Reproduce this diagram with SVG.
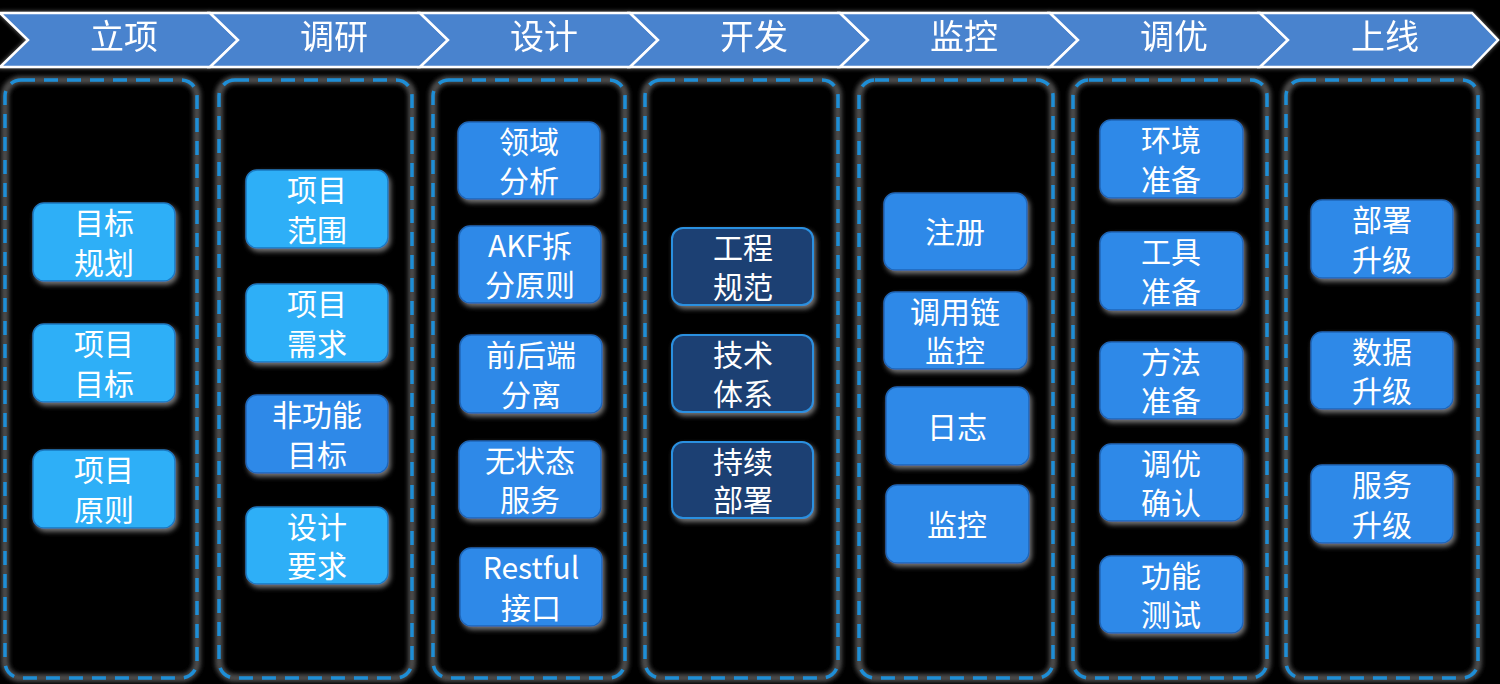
<svg xmlns="http://www.w3.org/2000/svg" width="1500" height="684" viewBox="0 0 1500 684">
<defs>
<filter id="glow" x="-20%" y="-20%" width="140%" height="140%">
<feGaussianBlur in="SourceAlpha" stdDeviation="2.5" result="b"/>
<feOffset in="b" dx="2" dy="3" result="o"/>
<feFlood flood-color="#8a8a8a" flood-opacity="0.85"/>
<feComposite in2="o" operator="in" result="s"/>
<feMerge><feMergeNode in="s"/><feMergeNode in="SourceGraphic"/></feMerge>
</filter>
<filter id="soft" x="-5%" y="-5%" width="110%" height="110%">
<feGaussianBlur stdDeviation="2"/>
</filter>
<filter id="hglow" x="-2%" y="-20%" width="104%" height="140%">
<feGaussianBlur in="SourceAlpha" stdDeviation="2" result="b"/>
<feFlood flood-color="#9a9a9a" flood-opacity="0.8"/>
<feComposite in2="b" operator="in" result="s"/>
<feMerge><feMergeNode in="s"/><feMergeNode in="SourceGraphic"/></feMerge>
</filter>
<style>
.chev{fill:#4a83ce;stroke:#ffffff;stroke-width:2.5;stroke-linejoin:miter}
.title{font-family:"Noto Sans CJK SC","Microsoft YaHei",sans-serif;font-size:34px;fill:#ffffff;text-anchor:middle}
.colhalo{fill:none;stroke:#4c4c4c;stroke-width:8;filter:url(#soft)}
.col{fill:none;stroke:#1e8ed6;stroke-width:3.5;stroke-dasharray:14 9}
.n{stroke-width:1.5;filter:url(#glow)}
.lt{fill:#2eaff7;stroke:#1a78c0}
.md{fill:#2f89e8;stroke:#1d66b8}
.dk{fill:#1e4173;stroke:#2a90e0;stroke-width:2}
.t{font-family:"Noto Sans CJK SC","Microsoft YaHei",sans-serif;font-size:30px;fill:#ffffff;text-anchor:middle}
</style>
</defs>
<rect x="0" y="0" width="1500" height="684" fill="#000000"/>

<g id="header" filter="url(#hglow)">
<polygon class="chev" points="0,13 210,13 238,40 210,67 0,67 28,40"/>
<polygon class="chev" points="210,13 420,13 448,40 420,67 210,67 238,40"/>
<polygon class="chev" points="420,13 630,13 658,40 630,67 420,67 448,40"/>
<polygon class="chev" points="630,13 840,13 868,40 840,67 630,67 658,40"/>
<polygon class="chev" points="840,13 1050,13 1078,40 1050,67 840,67 868,40"/>
<polygon class="chev" points="1050,13 1260,13 1288,40 1260,67 1050,67 1078,40"/>
<polygon class="chev" points="1260,13 1472,13 1498,40 1472,67 1260,67 1288,40"/>
<text class="title" x="124" y="49">立项</text>
<text class="title" x="334" y="49">调研</text>
<text class="title" x="544" y="49">设计</text>
<text class="title" x="754" y="49">开发</text>
<text class="title" x="964" y="49">监控</text>
<text class="title" x="1174" y="49">调优</text>
<text class="title" x="1385" y="49">上线</text>
</g>

<g id="columns">
<g id="col-lixiang"><rect class="colhalo" x="5" y="80" width="192" height="598" rx="16"/><rect class="col" x="5" y="80" width="192" height="598" rx="16"/></g>
<g id="col-diaoyan"><rect class="colhalo" x="219" y="80" width="193" height="598" rx="16"/><rect class="col" x="219" y="80" width="193" height="598" rx="16"/></g>
<g id="col-sheji"><rect class="colhalo" x="433" y="80" width="192" height="598" rx="16"/><rect class="col" x="433" y="80" width="192" height="598" rx="16"/></g>
<g id="col-kaifa"><rect class="colhalo" x="645" y="80" width="193" height="598" rx="16"/><rect class="col" x="645" y="80" width="193" height="598" rx="16"/></g>
<g id="col-jiankong"><rect class="colhalo" x="859" y="80" width="194" height="598" rx="16"/><rect class="col" x="859" y="80" width="194" height="598" rx="16"/></g>
<g id="col-diaoyou"><rect class="colhalo" x="1073" y="80" width="194" height="598" rx="16"/><rect class="col" x="1073" y="80" width="194" height="598" rx="16"/></g>
<g id="col-shangxian"><rect class="colhalo" x="1286" y="80" width="192" height="598" rx="16"/><rect class="col" x="1286" y="80" width="192" height="598" rx="16"/></g>
</g>

<g id="connectors"></g>

<!-- 立项 -->
<g id="n-mubiaoguihua"><rect class="n lt" x="33" y="203" width="142" height="78" rx="11"/><text class="t" x="104" y="234">目标</text><text class="t" x="104" y="274">规划</text></g>
<g id="n-xiangmumubiao"><rect class="n lt" x="33" y="324" width="142" height="78" rx="11"/><text class="t" x="104" y="355">项目</text><text class="t" x="104" y="395">目标</text></g>
<g id="n-xiangmuyuanze"><rect class="n lt" x="33" y="450" width="142" height="78" rx="11"/><text class="t" x="104" y="481">项目</text><text class="t" x="104" y="521">原则</text></g>

<!-- 调研 -->
<g id="n-xiangmufanwei"><rect class="n lt" x="246" y="170" width="142" height="78" rx="11"/><text class="t" x="317" y="201">项目</text><text class="t" x="317" y="241">范围</text></g>
<g id="n-xiangmuxuqiu"><rect class="n lt" x="246" y="284" width="142" height="78" rx="11"/><text class="t" x="317" y="315">项目</text><text class="t" x="317" y="355">需求</text></g>
<g id="n-feigongneng"><rect class="n md" x="246" y="395" width="142" height="78" rx="11"/><text class="t" x="317" y="426">非功能</text><text class="t" x="317" y="466">目标</text></g>
<g id="n-shejiyaoqiu"><rect class="n lt" x="246" y="507" width="142" height="77" rx="11"/><text class="t" x="317" y="538">设计</text><text class="t" x="317" y="577">要求</text></g>

<!-- 设计 -->
<g id="n-lingyu"><rect class="n md" x="458" y="122" width="142" height="77" rx="11"/><text class="t" x="529" y="153">领域</text><text class="t" x="529" y="192">分析</text></g>
<g id="n-akf"><rect class="n md" x="459" y="226" width="142" height="77" rx="11"/><text class="t" x="530" y="257">AKF拆</text><text class="t" x="530" y="296">分原则</text></g>
<g id="n-qianhouduan"><rect class="n md" x="460" y="335" width="142" height="78" rx="11"/><text class="t" x="531" y="366">前后端</text><text class="t" x="531" y="406">分离</text></g>
<g id="n-wuzhuangtai"><rect class="n md" x="459" y="441" width="142" height="77" rx="11"/><text class="t" x="530" y="472">无状态</text><text class="t" x="530" y="511">服务</text></g>
<g id="n-restful"><rect class="n md" x="460" y="548" width="142" height="78" rx="11"/><text class="t" x="531" y="579">Restful</text><text class="t" x="531" y="619">接口</text></g>

<!-- 开发 -->
<g id="n-gongcheng"><rect class="n dk" x="672" y="228" width="141" height="77" rx="11"/><text class="t" x="743" y="259">工程</text><text class="t" x="743" y="298">规范</text></g>
<g id="n-jishu"><rect class="n dk" x="672" y="335" width="141" height="77" rx="11"/><text class="t" x="743" y="366">技术</text><text class="t" x="743" y="405">体系</text></g>
<g id="n-chixu"><rect class="n dk" x="672" y="442" width="141" height="76" rx="11"/><text class="t" x="743" y="473">持续</text><text class="t" x="743" y="511">部署</text></g>

<!-- 监控 -->
<g id="n-zhuce"><rect class="n md" x="884" y="193" width="143" height="77" rx="11"/><text class="t" x="955" y="243">注册</text></g>
<g id="n-diaoyonglian"><rect class="n md" x="884" y="292" width="143" height="77" rx="11"/><text class="t" x="955" y="323">调用链</text><text class="t" x="955" y="362">监控</text></g>
<g id="n-rizhi"><rect class="n md" x="886" y="387" width="143" height="78" rx="11"/><text class="t" x="957" y="438">日志</text></g>
<g id="n-jiankong"><rect class="n md" x="886" y="485" width="143" height="78" rx="11"/><text class="t" x="957" y="536">监控</text></g>

<!-- 调优 -->
<g id="n-huanjing"><rect class="n md" x="1100" y="120" width="143" height="78" rx="11"/><text class="t" x="1171" y="151">环境</text><text class="t" x="1171" y="191">准备</text></g>
<g id="n-gongju"><rect class="n md" x="1100" y="232" width="143" height="78" rx="11"/><text class="t" x="1171" y="263">工具</text><text class="t" x="1171" y="303">准备</text></g>
<g id="n-fangfa"><rect class="n md" x="1100" y="342" width="143" height="77" rx="11"/><text class="t" x="1171" y="373">方法</text><text class="t" x="1171" y="412">准备</text></g>
<g id="n-diaoyouqueren"><rect class="n md" x="1100" y="444" width="143" height="77" rx="11"/><text class="t" x="1171" y="475">调优</text><text class="t" x="1171" y="514">确认</text></g>
<g id="n-gongnengceshi"><rect class="n md" x="1100" y="556" width="143" height="77" rx="11"/><text class="t" x="1171" y="587">功能</text><text class="t" x="1171" y="626">测试</text></g>

<!-- 上线 -->
<g id="n-bushu"><rect class="n md" x="1311" y="200" width="142" height="78" rx="11"/><text class="t" x="1382" y="231">部署</text><text class="t" x="1382" y="271">升级</text></g>
<g id="n-shuju"><rect class="n md" x="1311" y="332" width="142" height="77" rx="11"/><text class="t" x="1382" y="363">数据</text><text class="t" x="1382" y="402">升级</text></g>
<g id="n-fuwu"><rect class="n md" x="1311" y="465" width="142" height="78" rx="11"/><text class="t" x="1382" y="496">服务</text><text class="t" x="1382" y="536">升级</text></g>
</svg>
